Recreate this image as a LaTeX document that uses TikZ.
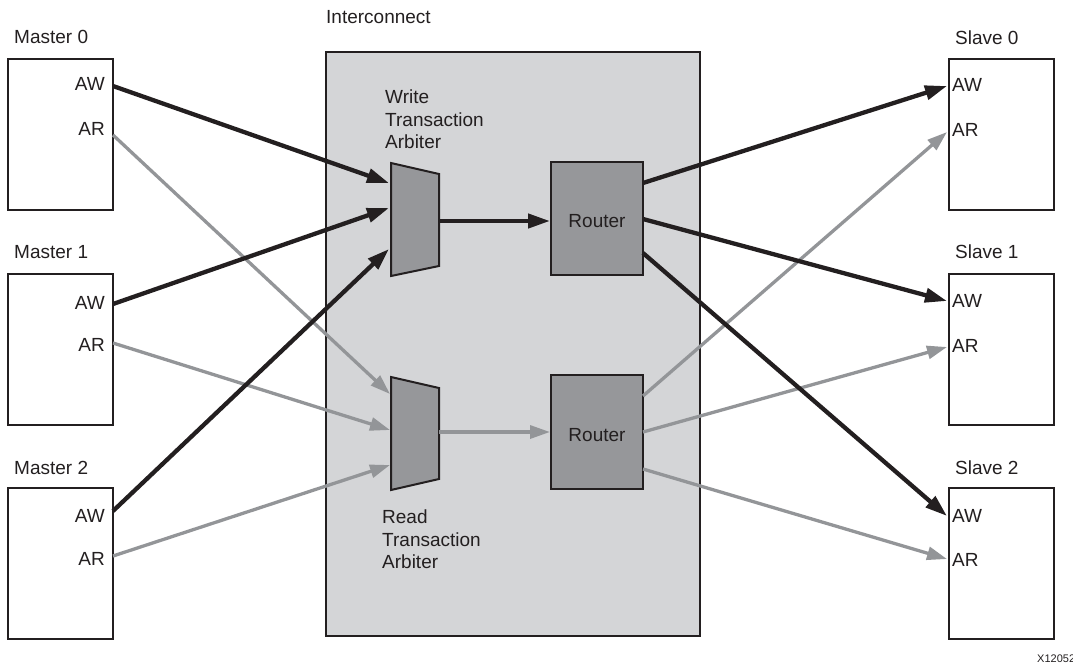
\documentclass[tikz,border=0pt]{standalone}
\usepackage{fontspec}
\setmainfont{Liberation Sans}
\usetikzlibrary{arrows.meta}
\definecolor{ink}{HTML}{231F20}
\definecolor{wire}{HTML}{939598}
\definecolor{icfill}{HTML}{D4D5D7}
\definecolor{blockfill}{HTML}{96979A}
\tikzset{
  unit/.style={draw=ink, line width=2pt, fill=white, minimum width=105pt, minimum height=151pt, inner sep=0pt},
  router/.style={draw=ink, line width=2pt, fill=blockfill, minimum width=92pt, minimum height=113pt, inner sep=0pt},
  lbl/.style={text=ink, inner sep=0pt, font=\fontsize{19}{22.5}\selectfont},
  wr/.style={draw=ink, line width=4.3pt, -{Triangle[length=22pt,width=14pt]}},
  rd/.style={draw=wire, line width=3.3pt, -{Triangle[length=20pt,width=13pt]}}
}
\begin{document}
\begin{tikzpicture}[x=1pt,y=-1pt]
  \useasboundingbox (0,0) rectangle (1073,665);

  % interconnect
  \node[draw=ink, line width=2pt, fill=icfill, minimum width=374pt, minimum height=584pt] (ic) at (513,344) {};
  \node[lbl, anchor=west] (ict) at (326,17) {Interconnect};

  % masters and slaves
  \node[unit] (m0) at (60.5,134.5) {};
  \node[unit] (m1) at (60.5,349.5) {};
  \node[unit] (m2) at (60.5,563.5) {};
  \node[unit] (s0) at (1001.5,134.5) {};
  \node[unit] (s1) at (1001.5,349.5) {};
  \node[unit] (s2) at (1001.5,563.5) {};
  \node[lbl, anchor=west] (m0t) at (14,37) {Master 0};
  \node[lbl, anchor=west] (m1t) at (14,252) {Master 1};
  \node[lbl, anchor=west] (m2t) at (14,468) {Master 2};
  \node[lbl, anchor=west] (s0t) at (955,38) {Slave 0};
  \node[lbl, anchor=west] (s1t) at (955,252) {Slave 1};
  \node[lbl, anchor=west] (s2t) at (955,468) {Slave 2};
  \foreach \n/\yw/\yr in {m0/84/129, m1/303/345, m2/516/559} {
    \node[lbl, anchor=east] (\n awt) at (105,\yw) {AW};
    \node[lbl, anchor=east] (\n art) at (105,\yr) {AR};
  }
  \foreach \n/\yw/\yr in {s0/85/130, s1/301/346, s2/516/560} {
    \node[lbl, anchor=west] (\n awt) at (952,\yw) {AW};
    \node[lbl, anchor=west] (\n art) at (952,\yr) {AR};
  }

  % arbiters
  \draw[draw=ink, line width=2pt, fill=blockfill] (391,163) -- (439,174) -- (439,266) -- (391,276) -- cycle;
  \draw[draw=ink, line width=2pt, fill=blockfill] (391,377) -- (439,388) -- (439,479) -- (391,490) -- cycle;
  \node[lbl, anchor=north west, align=left] (wat) at (385,90) {Write\\Transaction\\Arbiter};
  \node[lbl, anchor=north west, align=left] (rat) at (382,510) {Read\\Transaction\\Arbiter};

  % routers
  \node[router] (wrt) at (597,218.5) {};
  \node[router, minimum height=114pt] (rrt) at (597,432) {};
  \node[lbl] (wrtt) at (597,221) {Router};
  \node[lbl] (rrtt) at (597,435) {Router};

  % ports
  \coordinate (m0aw) at (113,86);  \coordinate (m0ar) at (113,135);
  \coordinate (m1aw) at (113,304); \coordinate (m1ar) at (113,343);
  \coordinate (m2aw) at (113,511); \coordinate (m2ar) at (113,556);
  \coordinate (wa1) at (389,183); \coordinate (wa2) at (389,208);
  \coordinate (wa3) at (389,249); \coordinate (wao) at (439,221);
  \coordinate (ra1) at (390,394); \coordinate (ra2) at (390,430);
  \coordinate (ra3) at (390,465); \coordinate (rao) at (439,432);
  \coordinate (wr1) at (643,183); \coordinate (wr2) at (643,219);
  \coordinate (wr3) at (643,253);
  \coordinate (rr1) at (643,396); \coordinate (rr2) at (643,432);
  \coordinate (rr3) at (643,469);
  \coordinate (s0aw) at (947,86);  \coordinate (s0ar) at (947,132);
  \coordinate (s1aw) at (947,301); \coordinate (s1ar) at (947,347);
  \coordinate (s2aw) at (947,516); \coordinate (s2ar) at (947,559);

  % read channel
  \foreach \from/\to in {m0ar/ra1,m1ar/ra2,m2ar/ra3,rr1/s0ar,rr2/s1ar,rr3/s2ar}
    \draw[rd] (\from) -- (\to);
  \draw[rd] (rao) -- (rrt.west |- rao);

  % write channel
  \foreach \from/\to in {m0aw/wa1,m1aw/wa2,m2aw/wa3,wr1/s0aw,wr2/s1aw,wr3/s2aw}
    \draw[wr] (\from) -- (\to);
  \draw[wr] (wao) -- (wrt.west |- wao);

  \node[text=ink, anchor=west, inner sep=0pt, font=\fontsize{11}{13}\selectfont] (fig) at (1037,659) {X12052};
\end{tikzpicture}
\end{document}
